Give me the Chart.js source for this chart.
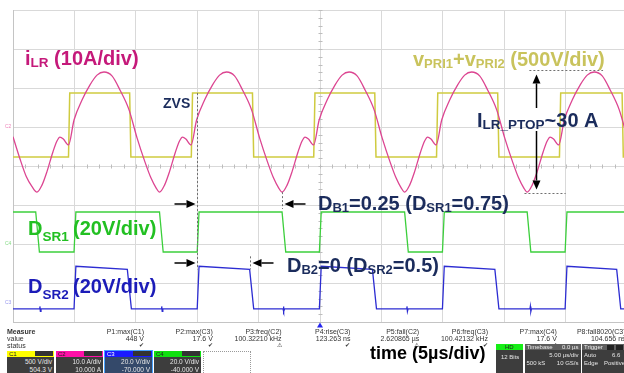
<!DOCTYPE html>
<html>
<head>
<meta charset="utf-8">
<script src="https://cdn.jsdelivr.net/npm/chart.js@4.4.1/dist/chart.umd.min.js"></script>
<style>
  html, body { margin: 0; padding: 0; background: #fff; }
  #wrap { position: relative; width: 624px; height: 373px; overflow: hidden; font-family: "Liberation Sans", Arial, sans-serif; }
  #scope { position: absolute; left: 0; top: 0; }
  .t { position: absolute; font-size: 7px; line-height: 7px; color: #333; white-space: nowrap; }
  .box { position: absolute; overflow: hidden; }
  .hdr { position: absolute; left: 0; right: 0; top: 0; height: 6px; font-size: 6px; line-height: 6px; }
  .body { position: absolute; left: 0; right: 0; top: 6px; bottom: 0; background: #3d3d3d; color: #e6e6e6; font-size: 6.5px; line-height: 7px; }
</style>
</head>
<body>
<div id="wrap">
  <canvas id="scope" width="640" height="373"></canvas>
  <div id="panel"></div>
</div>
<script>
// Scope channel settings (per division and offset)
const channelNames = ['C1', 'C2', 'C3', 'C4'];
const channelScale = [500, 10, 20, 20];
const channelOffset = [504.3, 10, -70, -40];
const channelScaleText = ['500 V/div', '10.0 A/div', '20.0 V/div', '20.0 V/div'];
const channelOffsetText = ['504.3 V', '10.000 A', '-70.000 V', '-40.000 V'];

// Timebase: 5 us/div, 10 divisions
const usPerDiv = 5;
const timeDivs = 10;

// i_LR resonant current (us, A)
const iLrTime = [
  0, 0.55, 1.08, 1.55,
  1.95, 2.36, 2.76, 3.25, 3.58, 3.82, 4.10, 4.52, 4.97, 5.62, 6.27, 6.84, 7.41, 8.06, 8.71, 9.45, 10.10, 10.75, 11.24, 11.65,
  11.93, 12.34, 12.74, 13.23, 13.56, 13.80, 14.08, 14.50, 14.95, 15.60, 16.25, 16.82, 17.39, 18.04, 18.69, 19.43, 20.08, 20.73, 21.22, 21.63,
  21.91, 22.32, 22.72, 23.21, 23.54, 23.78, 24.06, 24.48, 24.93, 25.58, 26.23, 26.80, 27.37, 28.02, 28.67, 29.41, 30.06, 30.71, 31.20, 31.61,
  31.89, 32.30, 32.70, 33.19, 33.52, 33.76, 34.04, 34.46, 34.91, 35.56, 36.21, 36.78, 37.35, 38.00, 38.65, 39.39, 40.04, 40.69, 41.18, 41.59,
  41.87, 42.28, 42.68, 43.17, 43.50, 43.74, 44.02, 44.44, 44.89, 45.54, 46.19, 46.76, 47.33, 47.98, 48.63, 49.37, 50.02
];
const iLrAmps = [
  -2.5, -8.0, -12.7, -15.3,
  -16.7, -14.9, -11.5, -6.4, -3.6, -2.6, -3.1, -4.6, 1.8, 6.9, 10.8, 13.3, 14.1, 13.1, 9.5, 4.4, -2.8, -9.0, -13.1, -15.6,
  -16.7, -14.9, -11.5, -6.4, -3.6, -2.6, -3.1, -4.6, 1.8, 6.9, 10.8, 13.3, 14.1, 13.1, 9.5, 4.4, -2.8, -9.0, -13.1, -15.6,
  -16.7, -14.9, -11.5, -6.4, -3.6, -2.6, -3.1, -4.6, 1.8, 6.9, 10.8, 13.3, 14.1, 13.1, 9.5, 4.4, -2.8, -9.0, -13.1, -15.6,
  -16.7, -14.9, -11.5, -6.4, -3.6, -2.6, -3.1, -4.6, 1.8, 6.9, 10.8, 13.3, 14.1, 13.1, 9.5, 4.4, -2.8, -9.0, -13.1, -15.6,
  -16.7, -14.9, -11.5, -6.4, -3.6, -2.6, -3.1, -4.6, 1.8, 6.9, 10.8, 13.3, 14.1, 13.1, 9.5, 4.4, -2.8
];

// vPRI1+vPRI2 edges (us) and levels (V)
const vPriRise = [4.52, 14.52, 24.49, 34.49, 44.50];
const vPriFall = [9.50, 19.50, 29.46, 39.47, 49.60];
const vPriHigh = 431;
const vPriLow = -389;

// D_SR1 edges (us) and levels (V)
const dsr1Fall = [1.85, 11.93, 21.91, 31.89, 41.87];
const dsr1Rise = [4.97, 15.00, 24.95, 34.97, 44.96];
const dsr1High = 16.4;
const dsr1Low = -4.1;

// D_SR2 edges (us) and levels (V)
const dsr2Rise = [4.97, 15.00, 24.95, 34.97, 44.96];
const dsr2Fall = [9.31, 19.27, 29.27, 39.24, 49.16];
const dsr2HighStart = 18.6;
const dsr2HighEnd = 17.0;
const dsr2Low = -3.3;
// small ringing on D_SR2 when D_SR1 switches off
const dsr2GlitchTime = [2.16, 12.08, 21.99, 32.05, 42.10];
const dsr2GlitchLevel = [-2.0, -4.6];

// measurement row
const measNames = ['P1:max(C1)', 'P2:max(C3)', 'P3:freq(C2)', 'P4:rise(C3)', 'P5:fall(C2)', 'P6:freq(C3)', 'P7:max(C4)', 'P8:fall8020(C3)'];
const measValues = ['448 V', '17.6 V', '100.32210 kHz', '123.263 ns', '2.620865 \u00b5s', '100.42132 kHz', '17.6 V', '104.656 ns'];
const measOk = [true, true, false, true, false, true, true, true];

// builds a square trace from rising/falling edge lists
function squareTrace(startHigh, rises, falls, highStart, highEnd, low, riseDur, fallDur) {
  const edges = rises.map(t => ({ t, up: true })).concat(falls.map(t => ({ t, up: false })))
    .sort((a, b) => a.t - b.t);
  const pts = [{ x: 0, y: startHigh ? highStart : low }];
  edges.forEach(e => {
    if (e.up) {
      pts.push({ x: e.t, y: low });
      pts.push({ x: e.t + riseDur, y: highStart });
    } else {
      pts.push({ x: e.t, y: highEnd });
      pts.push({ x: e.t + fallDur, y: low });
    }
  });
  const last = edges[edges.length - 1];
  pts.push({ x: timeDivs * usPerDiv, y: last.up ? highEnd : low });
  return pts;
}

const iLrData = iLrTime.map((t, i) => ({ x: t, y: iLrAmps[i] }));
const vPriData = squareTrace(false, vPriRise, vPriFall, vPriHigh, vPriHigh, vPriLow, 0.1, 0.1);
const dsr1Data = squareTrace(true, dsr1Rise, dsr1Fall, dsr1High, dsr1High, dsr1Low, 0.15, 0.3);
const dsr2Data = squareTrace(false, dsr2Rise, dsr2Fall, dsr2HighStart, dsr2HighEnd, dsr2Low, 0.15, 0.33);
dsr2GlitchTime.forEach(t => {
  dsr2Data.push({ x: t, y: dsr2Low }, { x: t + 0.03, y: dsr2GlitchLevel[0] },
    { x: t + 0.07, y: dsr2GlitchLevel[1] }, { x: t + 0.12, y: dsr2Low });
});
dsr2Data.sort((a, b) => a.x - b.x);

// hidden y axis per channel, range follows volts/div and offset
function channelAxis(i) {
  return {
    axis: 'y', display: false,
    min: -4 * channelScale[i] - channelOffset[i],
    max: 4 * channelScale[i] - channelOffset[i]
  };
}

const FONT = '"Liberation Sans", Arial, sans-serif';
const NAVY = '#1b2c5c';

function drawRich(ctx, x, y, parts, color) {
  ctx.fillStyle = color;
  ctx.textBaseline = 'alphabetic';
  ctx.textAlign = 'left';
  parts.forEach(([text, size, dy]) => {
    ctx.font = `bold ${size}px ${FONT}`;
    ctx.fillText(text, x, y + (dy || 0));
    x += ctx.measureText(text).width;
  });
}

function arrow(ctx, x1, y1, x2, y2) {
  const a = Math.atan2(y2 - y1, x2 - x1);
  const hl = 9, hw = 4;
  const bx = x2 - hl * Math.cos(a), by = y2 - hl * Math.sin(a);
  ctx.beginPath();
  ctx.moveTo(x1, y1);
  ctx.lineTo(bx, by);
  ctx.stroke();
  ctx.beginPath();
  ctx.moveTo(x2, y2);
  ctx.lineTo(bx + hw * Math.sin(a), by - hw * Math.cos(a));
  ctx.lineTo(bx - hw * Math.sin(a), by + hw * Math.cos(a));
  ctx.closePath();
  ctx.fill();
}

function dashed(ctx, x1, y1, x2, y2) {
  ctx.save();
  ctx.strokeStyle = '#707070';
  ctx.lineWidth = 1;
  ctx.setLineDash([2, 2]);
  ctx.beginPath();
  ctx.moveTo(x1, y1);
  ctx.lineTo(x2, y2);
  ctx.stroke();
  ctx.restore();
}

// center axis minor ticks, like the scope graticule
const graticule = {
  id: 'graticule',
  beforeDatasetsDraw(chart) {
    const ctx = chart.ctx, xs = chart.scales.x, ys = chart.scales.y;
    const y0 = Math.round(ys.getPixelForValue(0)) + 0.5;
    const x0 = Math.round(xs.getPixelForValue(25)) + 0.5;
    ctx.save();
    ctx.strokeStyle = '#bdbdbd';
    ctx.lineWidth = 1;
    ctx.beginPath();
    for (let t = 0; t <= 50; t += 1) {
      const px = Math.round(xs.getPixelForValue(t)) + 0.5;
      ctx.moveTo(px, y0 - 2); ctx.lineTo(px, y0 + 2);
    }
    for (let v = -4; v <= 4.001; v += 0.2) {
      const py = Math.round(ys.getPixelForValue(v)) + 0.5;
      ctx.moveTo(x0 - 2, py); ctx.lineTo(x0 + 2, py);
    }
    ctx.stroke();
    // channel ground markers at the left edge
    ctx.font = `5px ${FONT}`;
    ctx.textBaseline = 'middle';
    ctx.textAlign = 'left';
    [['C2', 'yC2', '#ee88bb'], ['C4', 'yC4', '#88dd88'], ['C3', 'yC3', '#9999ee']].forEach(([n, id, c]) => {
      ctx.fillStyle = c;
      ctx.fillText(n, 5, chart.scales[id].getPixelForValue(0));
    });
    ctx.restore();
  }
};

// labels, cursors and arrows on top of the traces
const notes = {
  id: 'notes',
  afterDatasetsDraw(chart) {
    const ctx = chart.ctx, xs = chart.scales.x;
    const yI = chart.scales.yC2, yV = chart.scales.yC1, y3 = chart.scales.yC3, y4 = chart.scales.yC4;
    ctx.save();

    drawRich(ctx, 25, 65, [['i', 20], ['LR', 13.5, 1.5], [' (10A/div)', 20]], '#c5197a');
    drawRich(ctx, 413, 66, [['v', 20], ['PRI1', 13, 1.5], ['+', 20], ['v', 20], ['PRI2', 13, 1.5], [' (500V/div)', 20]], '#c9c35c');
    drawRich(ctx, 163, 108, [['ZVS', 14]], NAVY);
    drawRich(ctx, 28, 235, [['D', 20], ['SR1', 13.5, 6]], '#22c022');
    drawRich(ctx, 73, 235, [['(20V/div)', 20]], '#22c022');
    drawRich(ctx, 28, 293, [['D', 20], ['SR2', 13.5, 6]], '#1c1cb8');
    drawRich(ctx, 73, 293, [['(20V/div)', 20]], '#1c1cb8');
    drawRich(ctx, 318, 210, [['D', 20], ['B1', 13, 2], ['=0.25 (D', 20], ['SR1', 13, 2], ['=0.75)', 20]], NAVY);
    drawRich(ctx, 287, 272, [['D', 20], ['B2', 13, 2], ['=0 (D', 20], ['SR2', 13, 2], ['=0.5)', 20]], NAVY);
    drawRich(ctx, 477, 127, [['I', 20], ['LR_PTOP', 13.5, 2], ['~30 A', 20]], NAVY);
    drawRich(ctx, 370, 359, [['time (5\u00b5s/div)', 18]], '#000');

    // ZVS / dead-time cursors
    const xZvs = Math.round(xs.getPixelForValue(dsr1Rise[1])) + 0.5;
    const xB1 = Math.round(xs.getPixelForValue(dsr1Fall[2])) + 0.5;
    const xB2 = Math.round(xs.getPixelForValue(dsr2Fall[1])) + 0.5;
    dashed(ctx, xZvs, yV.getPixelForValue(vPriHigh), xZvs, y3.getPixelForValue(dsr2HighEnd));
    dashed(ctx, xB1, yI.getPixelForValue(-16.7), xB1, y4.getPixelForValue(dsr1High) - 3);
    dashed(ctx, xB2, y3.getPixelForValue(dsr2HighEnd) - 13, xB2, y3.getPixelForValue(dsr2HighEnd));

    // peak-to-peak cursors
    const xP = Math.round(xs.getPixelForValue(42.58)) + 0.5;
    const yTop = Math.round(yI.getPixelForValue(14.1)) - 1.5;
    const yBot = Math.round(yI.getPixelForValue(-16.7)) + 1.5;
    dashed(ctx, xs.getPixelForValue(42.05), yTop, xs.getPixelForValue(48.05), yTop);
    dashed(ctx, xs.getPixelForValue(41.65), yBot, xs.getPixelForValue(45.0), yBot);

    ctx.strokeStyle = '#000';
    ctx.fillStyle = '#000';
    ctx.lineWidth = 1.5;
    arrow(ctx, xZvs - 23, 204, xZvs - 2, 204);
    arrow(ctx, xB1 + 23, 204, xB1 + 2, 204);
    arrow(ctx, xZvs - 23, 263, xZvs - 2, 263);
    arrow(ctx, xB2 + 23, 263, xB2 + 2, 263);
    arrow(ctx, xP, 108, xP, yTop + 4);
    arrow(ctx, xP, 131, xP, yBot - 4);

    // trigger position marker
    const xT = xs.getPixelForValue(25);
    ctx.fillStyle = '#2525ee';
    ctx.beginPath();
    ctx.moveTo(xT, 322.5); ctx.lineTo(xT + 3, 327.5); ctx.lineTo(xT - 3, 327.5);
    ctx.closePath();
    ctx.fill();
    ctx.restore();
  }
};

const gridStyle = { color: '#d9d9d9', drawTicks: false, lineWidth: 1 };
const borderStyle = { color: '#c4c4c4', width: 1 };

new Chart(document.getElementById('scope'), {
  type: 'line',
  data: {
    datasets: [
      { data: iLrData, yAxisID: 'yC2', borderColor: '#dc4591', borderWidth: 1.3, cubicInterpolationMode: 'monotone', order: 0 },
      { data: vPriData, yAxisID: 'yC1', borderColor: '#cfcb40', borderWidth: 1.5, tension: 0, order: 1 },
      { data: dsr1Data, yAxisID: 'yC4', borderColor: '#3ccf3c', borderWidth: 1.3, tension: 0, order: 2 },
      { data: dsr2Data, yAxisID: 'yC3', borderColor: '#2c2cd2', borderWidth: 1.3, tension: 0, order: 3 }
    ]
  },
  options: {
    responsive: false,
    devicePixelRatio: 1,
    animation: false,
    events: [],
    layout: { padding: { left: 13, right: 13, top: 10, bottom: 51 } },
    elements: { point: { radius: 0 } },
    plugins: { legend: { display: false }, tooltip: { enabled: false } },
    scales: {
      x: { type: 'linear', min: 0, max: timeDivs * usPerDiv, ticks: { display: false, stepSize: usPerDiv }, grid: gridStyle, border: borderStyle },
      y: { min: -4, max: 4, ticks: { display: false, stepSize: 1 }, grid: gridStyle, border: borderStyle },
      yC1: channelAxis(0),
      yC2: channelAxis(1),
      yC3: channelAxis(2),
      yC4: channelAxis(3)
    }
  },
  plugins: [graticule, notes]
});

// scope status panel under the graticule
const panel = document.getElementById('panel');
function addDiv(parent, cls, style, text) {
  const d = document.createElement('div');
  d.className = cls;
  Object.assign(d.style, style);
  if (text !== undefined) d.textContent = text;
  parent.appendChild(d);
  return d;
}

addDiv(panel, 't', { left: '7px', top: '328px', fontWeight: 'bold' }, 'Measure');
addDiv(panel, 't', { left: '7px', top: '335px' }, 'value');
addDiv(panel, 't', { left: '7px', top: '341.5px' }, 'status');
measNames.forEach((name, i) => {
  const right = (624 - (144 + 68.8 * i)) + 'px';
  addDiv(panel, 't', { right, top: '328px' }, name);
  addDiv(panel, 't', { right, top: '335px' }, measValues[i]);
  addDiv(panel, 't', { right, top: '341.5px', fontSize: '6px' }, measOk[i] ? '\u2714' : '\u26a0');
});

const headColors = ['#ffff00', '#ff10a8', '#1a1aff', '#10e010'];
channelNames.forEach((name, i) => {
  const box = addDiv(panel, 'box', { left: (7 + 49 * i) + 'px', top: '350.5px', width: '47px', height: '23px' });
  if (i === 2) box.style.outline = '1px solid #4aa3ff';
  const h = addDiv(box, 'hdr', { background: headColors[i], color: i === 2 ? '#fff' : '#222' });
  addDiv(h, 't', { left: '2px', top: '0px', fontSize: '6px', lineHeight: '6px', color: 'inherit' }, name);
  addDiv(h, 't', { right: '1px', top: '0.5px', width: '18px', height: '5px', background: '#333' });
  const b = addDiv(box, 'body', i === 2 ? { background: '#34496a' } : {});
  addDiv(b, 't', { right: '2px', top: '1.5px', color: '#e6e6e6', fontSize: '6.5px' }, channelScaleText[i]);
  addDiv(b, 't', { right: '2px', top: '9.5px', color: '#e6e6e6', fontSize: '6.5px' }, channelOffsetText[i]);
});
addDiv(panel, 'box', { left: '203px', top: '350.5px', width: '46px', height: '24px', border: '1px dotted #9a9a9a' });

// acquisition boxes at the right
const hd = addDiv(panel, 'box', { left: '496px', top: '344px', width: '27px', height: '30px' });
addDiv(addDiv(hd, 'hdr', { background: '#16ee16', textAlign: 'center', color: '#222' }), 't', { left: '9px', top: '0px', fontSize: '6px', color: '#222' }, 'HD');
addDiv(addDiv(hd, 'body', {}), 't', { left: '5px', top: '4px' , color: '#e6e6e6', fontSize: '6px' }, '12 Bits');

const tb = addDiv(panel, 'box', { left: '524.5px', top: '344px', width: '56px', height: '30px' });
const tbh = addDiv(tb, 'hdr', { background: '#5e5e5e' });
addDiv(tbh, 't', { left: '2px', top: '0px', fontSize: '6px', color: '#eee' }, 'Timebase');
addDiv(tbh, 't', { right: '2px', top: '0px', fontSize: '6px', color: '#eee' }, '0.0 \u00b5s');
const tbb = addDiv(tb, 'body', {});
addDiv(tbb, 't', { right: '2px', top: '1.5px', color: '#e6e6e6', fontSize: '6px' }, '5.00 \u00b5s/div');
addDiv(tbb, 't', { left: '2px', top: '9.5px', color: '#e6e6e6', fontSize: '6px' }, '500 kS');
addDiv(tbb, 't', { right: '2px', top: '9.5px', color: '#e6e6e6', fontSize: '6px' }, '10 GS/s');

const tr = addDiv(panel, 'box', { left: '582px', top: '344px', width: '50px', height: '30px' });
const trh = addDiv(tr, 'hdr', { background: '#5e5e5e' });
addDiv(trh, 't', { left: '2px', top: '0px', fontSize: '6px', color: '#eee' }, 'Trigger');
addDiv(trh, 't', { left: '25px', top: '0.5px', width: '7px', height: '5px', background: '#222' });
addDiv(trh, 't', { left: '34px', top: '0.5px', width: '7px', height: '5px', background: '#222' });
const trb = addDiv(tr, 'body', {});
addDiv(trb, 't', { left: '2px', top: '1.5px', color: '#e6e6e6', fontSize: '6px' }, 'Auto');
addDiv(trb, 't', { left: '30px', top: '1.5px', color: '#e6e6e6', fontSize: '6px' }, '6.6');
addDiv(trb, 't', { left: '2px', top: '9.5px', color: '#e6e6e6', fontSize: '6px' }, 'Edge');
addDiv(trb, 't', { left: '22px', top: '9.5px', color: '#e6e6e6', fontSize: '6px' }, 'Positive');
</script>
</body>
</html>
